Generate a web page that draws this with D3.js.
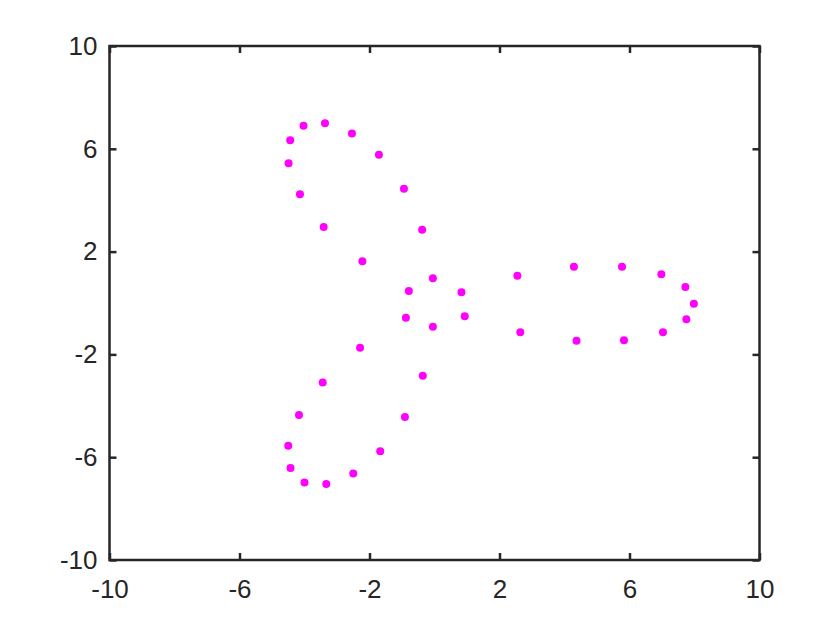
<!DOCTYPE html>
<html>
<head>
<meta charset="utf-8">
<script src="https://cdn.jsdelivr.net/npm/d3@7"></script>
<style>
  body { margin: 0; background: #fff; }
  svg { display: block; }
</style>
</head>
<body>
<svg width="840" height="630"></svg>
<script>
// point coordinates
var xs = [-4.03, -3.37, -2.54, -1.71, -0.94, -0.38, -0.05, -4.44, -4.49, -4.14, -3.41, -2.22, -0.79,
          0.83, -0.88, -0.05, 0.93, 2.55, 4.29, 5.77, 6.98, 7.72, 7.98, 7.75, 7.03, 5.83, 4.37, 2.64,
          -2.29, -0.36, -3.44, -0.91, -4.17, -4.50, -4.43, -4.00, -3.33, -2.50, -1.67];
var ys = [6.90, 6.99, 6.60, 5.77, 4.45, 2.85, 0.96, 6.33, 5.44, 4.23, 2.96, 1.62, 0.47,
          0.42, -0.57, -0.92, -0.52, 1.06, 1.41, 1.41, 1.12, 0.62, -0.03, -0.63, -1.14, -1.45, -1.47, -1.14,
          -1.74, -2.83, -3.09, -4.44, -4.36, -5.55, -6.42, -6.98, -7.04, -6.63, -5.77];
var ticks = [-10, -6, -2, 2, 6, 10];

window.onload = function() {
  var svg = d3.select("svg");
  var margin = {top: 46, right: 80.5, bottom: 70, left: 109.5};
  var width = 840 - margin.left - margin.right;
  var height = 630 - margin.top - margin.bottom;
  var g = svg.append("g").attr("transform", "translate(" + margin.left + "," + margin.top + ")");

  var x = d3.scaleLinear().domain([-10, 10]).range([0, width]);
  var y = d3.scaleLinear().domain([-10, 10]).range([height, 0]);

  var fmt = function(d) { return String(d); };
  var ink = "#262626";

  function style(sel) {
    sel.select(".domain").remove();
    sel.selectAll("line").attr("stroke", ink).attr("stroke-width", 2.5);
    sel.selectAll("text").attr("fill", ink)
      .attr("font-family", "'Liberation Sans', Arial, sans-serif")
      .attr("font-size", 26);
  }

  g.append("g")
    .attr("transform", "translate(0," + height + ")")
    .call(d3.axisBottom(x).tickValues(ticks).tickFormat(fmt).tickSize(-7).tickPadding(20))
    .call(style);

  g.append("g")
    .call(d3.axisLeft(y).tickValues(ticks).tickFormat(fmt).tickSize(-7).tickPadding(12))
    .call(style);

  g.append("g")
    .call(d3.axisTop(x).tickValues(ticks).tickFormat("").tickSize(-7))
    .call(style);

  g.append("g")
    .attr("transform", "translate(" + width + ",0)")
    .call(d3.axisRight(y).tickValues(ticks).tickFormat("").tickSize(-7))
    .call(style);

  g.append("rect")
    .attr("width", width)
    .attr("height", height)
    .attr("fill", "none")
    .attr("stroke", ink)
    .attr("stroke-width", 2.5);

  g.append("g")
    .selectAll("circle")
    .data(d3.range(xs.length))
    .enter().append("circle")
      .attr("cx", function(i) { return x(xs[i]); })
      .attr("cy", function(i) { return y(ys[i]); })
      .attr("r", 4)
      .attr("fill", "#ff00ff");
};
</script>
</body>
</html>
